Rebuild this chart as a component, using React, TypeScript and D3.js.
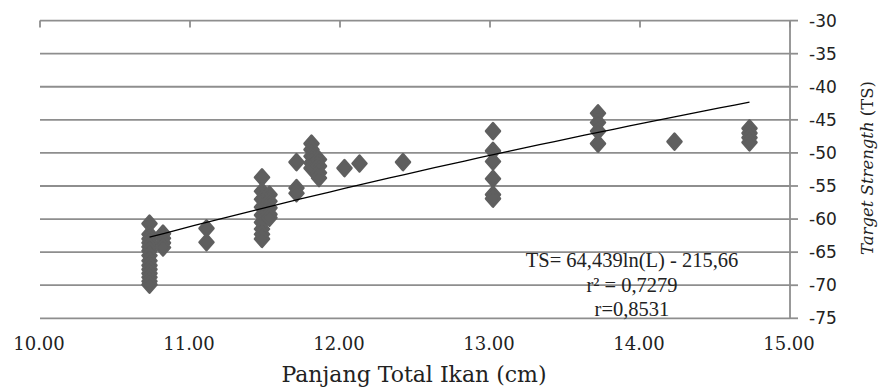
import React, { useEffect, useRef } from 'react';
import * as d3 from 'd3';

const lengthCm = [
  10.73, 10.73, 10.73, 10.73, 10.73, 10.73, 10.73, 10.73, 10.73, 10.73, 10.73, 10.73, 10.73, 10.73,
  10.82, 10.82, 10.82, 10.82,
  11.11, 11.11,
  11.48, 11.48, 11.48, 11.48, 11.48, 11.48, 11.48, 11.48, 11.48,
  11.53, 11.53, 11.53, 11.53, 11.53,
  11.71, 11.71, 11.71,
  11.81, 11.81, 11.81, 11.81, 11.81,
  11.86, 11.86, 11.86, 11.86,
  12.03, 12.13, 12.42,
  13.02, 13.02, 13.02, 13.02, 13.02, 13.02,
  13.72, 13.72, 13.72, 13.72,
  14.23,
  14.73, 14.73, 14.73, 14.73,
];
const targetStrength = [
  -60.7, -62.3, -63, -63.6, -64.2, -64.8, -65.5, -66.3, -67, -67.6, -68.2, -68.8, -69.4, -69.9,
  -62.2, -62.9, -63.6, -64.3,
  -61.4, -63.5,
  -53.7, -55.8, -57, -58.2, -59.4, -60.5, -61.5, -62.3, -63,
  -56.3, -57.3, -58.3, -59.3, -59.8,
  -51.4, -55.3, -56.1,
  -48.6, -49.5, -50.5, -51.5, -52.3,
  -51, -52, -53, -53.8,
  -52.3, -51.6, -51.4,
  -46.7, -49.7, -51.3, -53.9, -56.3, -56.9,
  -44.0, -45.4, -46.7, -48.6,
  -48.3,
  -46.3, -47, -47.7, -48.4,
];

const xTicks = [10, 11, 12, 13, 14, 15];
const yTicks = [-30, -35, -40, -45, -50, -55, -60, -65, -70, -75];
const fitA = 64.439;
const fitB = -215.66;
const fitText = ['TS= 64,439ln(L) - 215,66', 'r² = 0,7279', 'r=0,8531'];

const W = 880;
const H = 389;

const Chart = () => {
  const ref = useRef<SVGSVGElement>(null);

  useEffect(() => {
    const svg = d3.select(ref.current);
    svg.selectAll('*').remove();

    const x = d3.scaleLinear().domain([10, 15]).range([40, 790]);
    const y = d3.scaleLinear().domain([-75, -30]).range([318.3, 20.6]);
    const grid = '#8e8e8e';

    // horizontal gridlines
    svg.append('g')
      .selectAll('line')
      .data(yTicks)
      .enter().append('line')
      .attr('x1', x(10)).attr('x2', x(15))
      .attr('y1', d => y(d)).attr('y2', d => y(d))
      .attr('stroke', grid)
      .attr('stroke-width', 1.8);

    // right axis line + ticks + labels
    svg.append('line')
      .attr('x1', x(15)).attr('x2', x(15))
      .attr('y1', y(-30)).attr('y2', y(-75))
      .attr('stroke', grid).attr('stroke-width', 1.8);

    svg.append('g')
      .selectAll('line')
      .data(yTicks)
      .enter().append('line')
      .attr('x1', x(15)).attr('x2', x(15) + 8)
      .attr('y1', d => y(d)).attr('y2', d => y(d))
      .attr('stroke', grid).attr('stroke-width', 1.8);

    svg.append('g')
      .selectAll('text')
      .data(yTicks)
      .enter().append('text')
      .attr('x', 809)
      .attr('y', d => y(d))
      .attr('dy', '0.36em')
      .style('font-family', '"DejaVu Sans", Verdana, sans-serif')
      .style('font-size', '17px')
      .attr('fill', '#222')
      .text(d => String(d));

    // x ticks hang from the top line
    svg.append('g')
      .selectAll('line')
      .data(xTicks)
      .enter().append('line')
      .attr('x1', d => x(d)).attr('x2', d => x(d))
      .attr('y1', y(-30)).attr('y2', y(-30) + 7)
      .attr('stroke', grid).attr('stroke-width', 1.8);

    svg.append('g')
      .selectAll('text')
      .data(xTicks)
      .enter().append('text')
      .attr('x', d => x(d) - 1)
      .attr('y', 350)
      .attr('text-anchor', 'middle')
      .style('font-family', '"DejaVu Serif", serif')
      .style('font-size', '18px')
      .attr('fill', '#222')
      .text(d => d.toFixed(2));

    // axis titles
    svg.append('text')
      .attr('x', 414)
      .attr('y', 382)
      .attr('text-anchor', 'middle')
      .style('font-family', '"DejaVu Serif", serif')
      .style('font-size', '22px')
      .attr('fill', '#222')
      .text('Panjang Total Ikan (cm)');

    const yTitle = svg.append('text')
      .attr('transform', `translate(873,168) rotate(-90)`)
      .attr('text-anchor', 'middle')
      .style('font-family', '"DejaVu Serif", serif')
      .style('font-size', '16.5px')
      .attr('fill', '#222');
    yTitle.append('tspan').style('font-style', 'italic').text('Target Strength ');
    yTitle.append('tspan').text('(TS)');

    // scatter points
    const pts = lengthCm.map((l, i) => ({ l, ts: targetStrength[i] }));
    const diamond = 'M0,-8L7,0L0,8L-7,0Z';
    svg.append('g')
      .selectAll('path')
      .data(pts)
      .enter().append('path')
      .attr('d', diamond)
      .attr('transform', d => `translate(${x(d.l)},${y(d.ts)})`)
      .attr('fill', '#5f5f5f')
      .attr('stroke', '#5f5f5f')
      .attr('stroke-width', 2.5)
      .attr('stroke-linejoin', 'round');

    // logarithmic trend line
    const lMin = d3.min(lengthCm) as number;
    const lMax = d3.max(lengthCm) as number;
    const fit = d3.range(0, 41).map(i => {
      const l = lMin + (lMax - lMin) * i / 40;
      return [l, fitA * Math.log(l) + fitB] as [number, number];
    });
    svg.append('path')
      .datum(fit)
      .attr('d', d3.line<[number, number]>().x(d => x(d[0])).y(d => y(d[1])))
      .attr('fill', 'none')
      .attr('stroke', '#000')
      .attr('stroke-width', 1.3);

    // equation text
    svg.append('g')
      .selectAll('text')
      .data(fitText)
      .enter().append('text')
      .attr('x', 632)
      .attr('y', (d, i) => 267 + i * 24.5)
      .attr('text-anchor', 'middle')
      .style('font-family', '"Liberation Serif", "Times New Roman", serif')
      .style('font-size', '20.5px')
      .attr('fill', '#222')
      .text(d => d);
  }, []);

  return <svg ref={ref} width={W} height={H} style={{ position: 'absolute', left: 0, top: 0, background: '#fff' }} />;
};

export default function App() {
  return <Chart />;
}
